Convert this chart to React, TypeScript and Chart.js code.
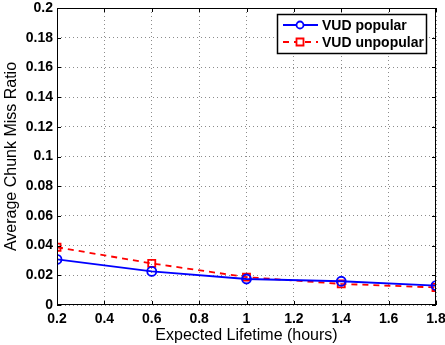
import React, { useEffect, useRef } from "react";
import { Chart, registerables } from "chart.js";

Chart.register(...registerables);

const lifetimes = [0.2, 0.6, 1.0, 1.4, 1.8];
const popular = [0.0307, 0.0226, 0.0175, 0.016, 0.0131];
const unpopular = [0.0389, 0.028, 0.0188, 0.0142, 0.0118];
const seriesNames = ["VUD popular", "VUD unpopular"];
const xTitle = "Expected Lifetime (hours)";
const yTitle = "Average Chunk Miss Ratio";

const FONT = "'Liberation Sans', Arial, Helvetica, sans-serif";

const framePlugin = {
  id: "frame",
  afterDraw(chart: any) {
    const { ctx, chartArea } = chart;
    const { left, right, top, bottom } = chartArea;
    ctx.save();
    ctx.strokeStyle = "#000";
    ctx.lineWidth = 1;
    ctx.setLineDash([]);
    ctx.strokeRect(left + 0.5, top + 0.5, right - left - 1, bottom - top - 1);
    const xs = chart.scales.x;
    const ys = chart.scales.y;
    ctx.beginPath();
    xs.ticks.forEach((t: any) => {
      const px = Math.round(xs.getPixelForValue(t.value)) + 0.5;
      ctx.moveTo(px, bottom);
      ctx.lineTo(px, bottom - 4);
      ctx.moveTo(px, top);
      ctx.lineTo(px, top + 4);
    });
    ys.ticks.forEach((t: any) => {
      const py = Math.round(ys.getPixelForValue(t.value)) + 0.5;
      ctx.moveTo(left, py);
      ctx.lineTo(left + 4, py);
      ctx.moveTo(right, py);
      ctx.lineTo(right - 4, py);
    });
    ctx.stroke();

    // legend
    const lx = 277, ly = 14, lw = 149, lh = 39;
    ctx.fillStyle = "#fff";
    ctx.fillRect(lx, ly, lw, lh);
    ctx.strokeStyle = "#000";
    ctx.lineWidth = 1.5;
    ctx.strokeRect(lx + 0.5, ly + 0.5, lw, lh);
    const rows = [
      { y: ly + 11, color: "#0000ff", dash: [] as number[], marker: "circle", name: seriesNames[0] },
      { y: ly + 28, color: "#ff0000", dash: [6, 5], marker: "square", name: seriesNames[1] },
    ];
    rows.forEach((r) => {
      ctx.strokeStyle = r.color;
      ctx.lineWidth = 1.8;
      ctx.setLineDash(r.dash);
      ctx.beginPath();
      ctx.moveTo(lx + 6, r.y);
      ctx.lineTo(lx + 41, r.y);
      ctx.stroke();
      ctx.setLineDash([]);
      ctx.beginPath();
      if (r.marker === "circle") {
        ctx.arc(lx + 23, r.y, 3.5, 0, Math.PI * 2);
      } else {
        ctx.rect(lx + 19.5, r.y - 3.5, 7, 7);
      }
      ctx.fillStyle = "#fff";
      ctx.fill();
      ctx.stroke();
      ctx.fillStyle = "#000";
      ctx.font = `bold 14px ${FONT}`;
      ctx.textBaseline = "middle";
      ctx.textAlign = "left";
      ctx.fillText(r.name, lx + 45, r.y + 1);
    });
    ctx.restore();
  },
};

export default function App() {
  const ref = useRef<HTMLCanvasElement>(null);
  useEffect(() => {
    document.body.style.margin = "0";
    const chart = new Chart(ref.current!, {
      type: "line",
      data: {
        datasets: [
          {
            label: seriesNames[0],
            data: lifetimes.map((x, i) => ({ x, y: popular[i] })),
            borderColor: "#0000ff",
            backgroundColor: "#ffffff",
            borderWidth: 1.8,
            pointStyle: "circle",
            pointRadius: 4.5,
            pointBorderWidth: 1.8,
            pointBorderColor: "#0000ff",
            pointBackgroundColor: "rgba(255,255,255,0)",
            tension: 0,
          },
          {
            label: seriesNames[1],
            data: lifetimes.map((x, i) => ({ x, y: unpopular[i] })),
            borderColor: "#ff0000",
            backgroundColor: "#ffffff",
            borderWidth: 1.8,
            borderDash: [6, 5],
            pointStyle: "rect",
            pointRadius: 5,
            pointBorderWidth: 1.8,
            pointBorderColor: "#ff0000",
            pointBackgroundColor: "rgba(255,255,255,0)",
            tension: 0,
          },
        ],
      },
      options: {
        animation: false,
        responsive: false,
        maintainAspectRatio: false,
        layout: { padding: { left: 0, top: 8, right: 9, bottom: 0 } },
        plugins: { legend: { display: false }, tooltip: { enabled: false } },
        scales: {
          x: {
            type: "linear",
            min: 0.2,
            max: 1.8,
            ticks: {
              stepSize: 0.2,
              color: "#000",
              padding: 6,
              maxRotation: 0,
              font: { family: FONT, size: 14, weight: "bold" },
              callback: (v: any) => String(Math.round(Number(v) * 10) / 10),
            },
            grid: { color: "rgba(0,0,0,0.45)", lineWidth: 1, drawTicks: false },
            border: { display: false, dash: [1, 3] },
            title: {
              display: true,
              text: xTitle,
              color: "#000",
              font: { family: FONT, size: 16 },
              padding: { top: 0, bottom: 0 },
            },
            afterFit: (s: any) => {
              s.height = 40;
              s.paddingLeft = 0;
              s.paddingRight = 0;
            },
          },
          y: {
            type: "linear",
            min: 0,
            max: 0.2,
            ticks: {
              stepSize: 0.02,
              color: "#000",
              padding: 4,
              font: { family: FONT, size: 14, weight: "bold" },
              callback: (v: any) => String(Math.round(Number(v) * 100) / 100),
            },
            grid: { color: "rgba(0,0,0,0.45)", lineWidth: 1, drawTicks: false },
            border: { display: false, dash: [1, 3] },
            title: {
              display: true,
              text: yTitle,
              color: "#000",
              font: { family: FONT, size: 16 },
              padding: { top: 2, bottom: 0 },
            },
            afterFit: (s: any) => {
              s.width = 57;
              s.paddingTop = 0;
              s.paddingBottom = 0;
            },
          },
        },
      } as any,
      plugins: [framePlugin],
    });
    return () => chart.destroy();
  }, []);
  return (
    <div style={{ width: 445, height: 345 }}>
      <canvas ref={ref} width={445} height={345} style={{ display: "block" }} />
    </div>
  );
}
